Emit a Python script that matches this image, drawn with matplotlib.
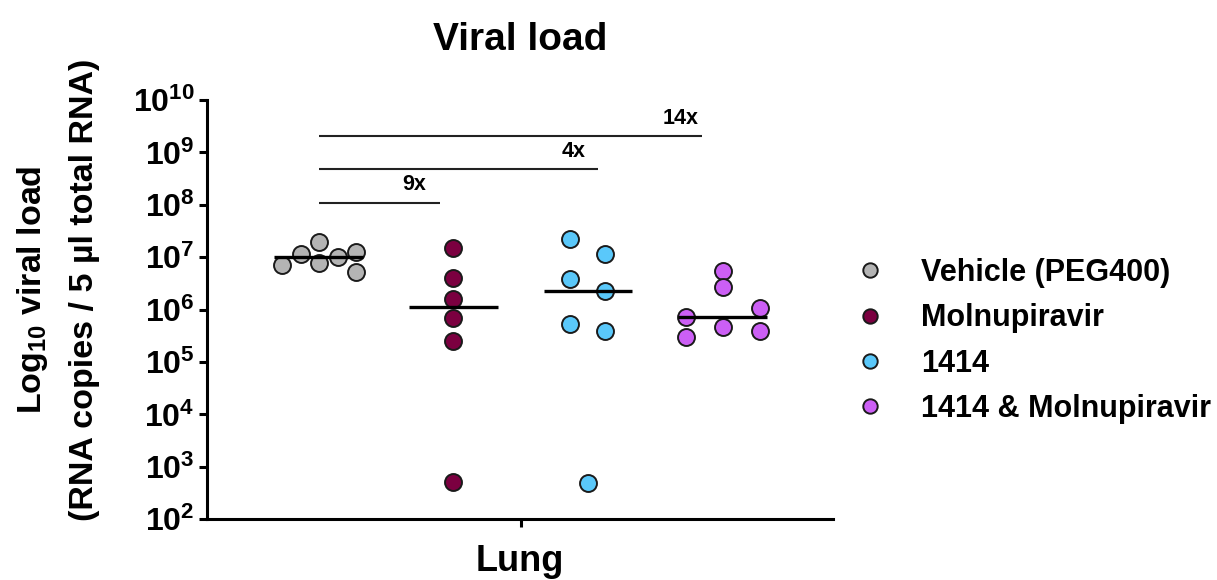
import numpy as np
import matplotlib
matplotlib.use("Agg")
import matplotlib.pyplot as plt
from matplotlib.ticker import FixedLocator, FuncFormatter

plt.rcParams['font.family'] = ['Liberation Sans', 'DejaVu Sans']
plt.rcParams['font.weight'] = 'bold'
plt.rcParams['mathtext.fontset'] = 'custom'
plt.rcParams['mathtext.rm'] = 'Liberation Sans:bold'
plt.rcParams['mathtext.bf'] = 'Liberation Sans:bold'
plt.rcParams['mathtext.default'] = 'bf'

# data (RNA copies / 5 ul total RNA)
groups = ['Vehicle (PEG400)', 'Molnupiravir', '1414', '1414 & Molnupiravir']
colors = ['#b4b4b4', '#7b0040', '#5ac8fa', '#cc5ff5']
vehicle = [7.1e6, 1.15e7, 1.95e7, 7.8e6, 1.0e7, 1.25e7, 5.2e6]
molnupiravir = [1.5e7, 4.0e6, 1.58e6, 6.9e5, 2.5e5, 500]
c1414 = [2.2e7, 1.15e7, 3.8e6, 2.26e6, 5.4e5, 3.9e5, 490]
combo = [5.5e6, 2.7e6, 1.07e6, 7.2e5, 4.7e5, 3.9e5, 3.0e5]
values = [vehicle, molnupiravir, c1414, combo]

# horizontal scatter offsets (beeswarm style), same order as the values
offsets = [
    [-0.275, -0.134, 0.0, 0.0, 0.141, 0.275, 0.275],
    [0, 0, 0, 0, 0, 0],
    [-0.13, 0.13, -0.13, 0.13, -0.13, 0.13, 0.0],
    [0.0, 0.0, 0.275, -0.27, 0.0, 0.275, -0.27],
]

# fold-change comparisons vs vehicle: label, bar height, bar end, label x
fold_labels = ['9x', '4x', '14x']
fold_heights = [1.1e8, 4.8e8, 2.05e9]
fold_ends = [-0.6, 0.576, 1.35]
fold_text_x = [-0.79, 0.39, 1.19]

centers = [-1.5, -0.5, 0.5, 1.5]

fig = plt.figure(figsize=(12.17, 5.80), dpi=100)
ax = fig.add_axes([0.170, 0.105, 0.5145, 0.7224])

for i, (vals, offs) in enumerate(zip(values, offsets)):
    xs = [centers[i] + o for o in offs]
    ax.plot(xs, vals, 'o', ms=12.2, mfc=colors[i], mec='#1a1a1a', mew=1.4,
            label=groups[i], zorder=3, clip_on=False)
    med = np.median(vals)
    ax.plot([centers[i] - 0.33, centers[i] + 0.33], [med, med], color='black',
            lw=2.4, zorder=4, solid_capstyle='butt')

for lab, h, end, tx in zip(fold_labels, fold_heights, fold_ends, fold_text_x):
    ax.plot([centers[0], end], [h, h], color='#222222', lw=1.5, solid_capstyle='butt')
    ax.text(tx, h * 1.4, lab, ha='center', va='bottom', fontsize=15.5, fontweight='bold')

ax.set_yscale('log')
ax.set_ylim(1e2, 1e10)
ax.set_xlim(-2.33, 2.32)
ax.yaxis.set_major_locator(FixedLocator([10.0 ** k for k in range(2, 11)]))
ax.yaxis.set_minor_locator(FixedLocator([]))
ax.yaxis.set_major_formatter(FuncFormatter(lambda v, p: r'$10^{%d}$' % round(np.log10(v))))
ax.set_xticks([0])
ax.set_xticklabels([''])
ax.set_xlabel('Lung', fontsize=26, fontweight='bold', labelpad=9)

for s in ['top', 'right']:
    ax.spines[s].set_visible(False)
for s in ['left', 'bottom']:
    ax.spines[s].set_linewidth(2.2)
ax.tick_params(axis='both', width=2.2, length=6, labelsize=23, pad=3)

ax.set_title('Viral load', fontsize=28, fontweight='bold', pad=36)

ax.text(-0.278, 0.547, r'Log$_{10}$ viral load', transform=ax.transAxes, rotation=90,
        ha='center', va='center', fontsize=24.5, fontweight='bold')
ax.text(-0.196, 0.547, '(RNA copies / 5 µl total RNA)', transform=ax.transAxes,
        rotation=90, ha='center', va='center', fontsize=24.5, fontweight='bold')

leg = ax.legend(loc='center left', bbox_to_anchor=(0.99, 0.425), frameon=False,
                fontsize=22, handletextpad=1.2, labelspacing=0.5,
                markerscale=0.85, handlelength=1.0)
for t in leg.get_texts():
    t.set_fontweight('bold')

fig.savefig('out.png', dpi=100)
